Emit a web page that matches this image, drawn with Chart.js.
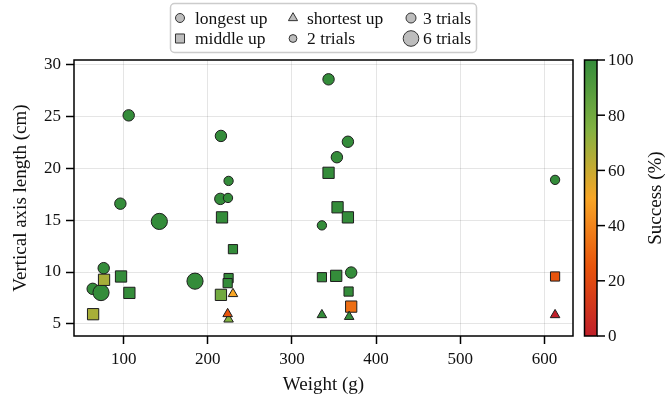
<!DOCTYPE html>
<html>
<head>
<meta charset="utf-8">
<script src="https://cdn.jsdelivr.net/npm/chart.js@4.4.0/dist/chart.umd.min.js"></script>
<style>
  html, body { margin: 0; padding: 0; background: #fff; }
</style>
</head>
<body>
<canvas id="chart" width="671" height="398"></canvas>
<script>
// longest up (circles)
const longestWeight  = [106, 215.6, 224.7, 343.5, 366.5, 353.4, 612.7, 214.9, 224, 96.1, 142.4, 335.6, 76.3, 63.2, 73.1, 184.8, 370.4];
const longestLength  = [25.08, 23.1, 18.77, 28.55, 22.54, 21.05, 18.87, 17.04, 17.13, 16.58, 14.87, 14.49, 10.37, 8.38, 8.02, 9.12, 9.95];
const longestSuccess = [100, 100, 100, 100, 100, 100, 100, 100, 100, 100, 100, 100, 100, 100, 100, 100, 100];
const longestTrials  = [3, 3, 2, 3, 3, 3, 2, 3, 2, 3, 6, 2, 3, 3, 6, 6, 3];

// middle up (squares)
const middleWeight  = [343.5, 354.2, 366.5, 216.9, 229.9, 224.7, 223.6, 215.6, 76.7, 96.9, 106.8, 63.7, 335.6, 352.6, 367.3, 370.4, 612.7];
const middleLength  = [19.55, 16.23, 15.26, 15.26, 12.2, 9.41, 8.93, 7.8, 9.25, 9.57, 7.99, 5.94, 9.5, 9.63, 8.12, 6.67, 9.57];
const middleSuccess = [100, 100, 100, 100, 100, 100, 100, 80, 67, 100, 100, 67, 100, 100, 100, 33, 25];
const middleTrials  = [3, 3, 3, 3, 2, 2, 2, 3, 3, 3, 3, 3, 2, 3, 2, 3, 2];

// shortest up (triangles)
const shortestWeight  = [229.9, 224.7, 223.6, 368, 335.6, 612.7];
const shortestLength  = [7.9, 5.45, 5.97, 5.7, 5.87, 5.87];
const shortestSuccess = [50, 75, 25, 100, 100, 0];
const shortestTrials  = [2, 2, 2, 2, 2, 2];

const xTicks = [100, 200, 300, 400, 500, 600];
const yTicks = [5, 10, 15, 20, 25, 30];
const cbTicks = [0, 20, 40, 60, 80, 100];

const shapeLabels = ['longest up', 'middle up', 'shortest up'];
const trialLabels = ['2 trials', '3 trials', '6 trials'];

const serif = '"Liberation Serif", "Times New Roman", serif';

// red -> orange -> green colour map
const stops = [
  [0, [192, 32, 42]],
  [0.25, [232, 84, 12]],
  [0.5, [248, 166, 38]],
  [0.75, [130, 178, 66]],
  [1, [52, 140, 58]]
];
function cmap(pct) {
  const t = Math.max(0, Math.min(1, pct / 100));
  for (let i = 1; i < stops.length; i++) {
    if (t <= stops[i][0]) {
      const [t0, c0] = stops[i - 1];
      const [t1, c1] = stops[i];
      const f = (t - t0) / (t1 - t0);
      const c = c0.map((v, k) => Math.round(v + (c1[k] - v) * f));
      return `rgb(${c[0]},${c[1]},${c[2]})`;
    }
  }
  return 'rgb(52,140,58)';
}

const toPoints = (xs, ys) => xs.map((x, i) => ({ x: x, y: ys[i] }));

const boxPlugin = {
  id: 'box',
  afterDraw(chart) {
    const { ctx, chartArea: a } = chart;
    ctx.save();
    ctx.strokeStyle = '#000';
    ctx.lineWidth = 1.5;
    ctx.strokeRect(a.left, a.top, a.right - a.left, a.bottom - a.top);
    ctx.restore();
  }
};

const colorbarPlugin = {
  id: 'colorbar',
  afterDraw(chart) {
    const { ctx, chartArea: a } = chart;
    const x0 = 584.5, w = 12.5;
    const top = a.top, bottom = a.bottom;
    ctx.save();
    const g = ctx.createLinearGradient(0, bottom, 0, top);
    for (let p = 0; p <= 100; p += 5) g.addColorStop(p / 100, cmap(p));
    ctx.fillStyle = g;
    ctx.fillRect(x0, top, w, bottom - top);
    ctx.strokeStyle = '#000';
    ctx.lineWidth = 1.5;
    ctx.strokeRect(x0, top, w, bottom - top);
    ctx.fillStyle = '#111';
    ctx.font = '17px ' + serif;
    ctx.textAlign = 'left';
    ctx.textBaseline = 'middle';
    cbTicks.forEach(v => {
      const y = bottom - (bottom - top) * v / 100;
      ctx.beginPath();
      ctx.moveTo(x0 + w, y);
      ctx.lineTo(x0 + w + 8, y);
      ctx.stroke();
      ctx.fillText(String(v), x0 + w + 11, y + 1);
    });
    ctx.translate(656, (top + bottom) / 2);
    ctx.rotate(-Math.PI / 2);
    ctx.textAlign = 'center';
    ctx.font = '19px ' + serif;
    ctx.fillText('Success (%)', 0, 0);
    ctx.restore();
  }
};

const legendPlugin = {
  id: 'customLegend',
  afterDraw(chart) {
    const ctx = chart.ctx;
    const draw = Chart.helpers.drawPoint;
    ctx.save();
    ctx.beginPath();
    ctx.roundRect(170.5, 3.5, 306, 49, 4);
    ctx.fillStyle = 'rgba(255,255,255,0.85)';
    ctx.fill();
    ctx.strokeStyle = '#cccccc';
    ctx.lineWidth = 1.5;
    ctx.stroke();

    const rows = [18, 38.5];
    const items = [
      { mx: 180, tx: 195, y: rows[0], style: 'circle', r: 4.5, label: shapeLabels[0] },
      { mx: 180, tx: 195, y: rows[1], style: 'rect', r: 6.4, label: shapeLabels[1] },
      { mx: 293, tx: 307, y: rows[0], style: 'triangle', r: 5.3, label: shapeLabels[2] },
      { mx: 293, tx: 307, y: rows[1], style: 'circle', r: 3.9, label: trialLabels[0] },
      { mx: 411, tx: 423, y: rows[0], style: 'circle', r: 5, label: trialLabels[1] },
      { mx: 411, tx: 423, y: rows[1], style: 'circle', r: 7.8, label: trialLabels[2] }
    ];
    ctx.font = '17.5px ' + serif;
    ctx.textAlign = 'left';
    ctx.textBaseline = 'middle';
    items.forEach(it => {
      ctx.fillStyle = '#bdbdbd';
      ctx.strokeStyle = '#333';
      ctx.lineWidth = 1;
      draw(ctx, { pointStyle: it.style, radius: it.r, rotation: 0, borderWidth: 1 }, it.mx, it.y);
      ctx.fillStyle = '#111';
      ctx.fillText(it.label, it.tx, it.y + 1);
    });
    ctx.restore();
  }
};

const edge = '#1e1e1e';

new Chart(document.getElementById('chart'), {
  type: 'scatter',
  data: {
    datasets: [
      {
        label: shapeLabels[0],
        data: toPoints(longestWeight, longestLength),
        pointStyle: 'circle',
        pointRadius: longestTrials.map(t => 3.3 * Math.sqrt(t)),
        backgroundColor: longestSuccess.map(cmap),
        borderColor: edge,
        borderWidth: 1,
        order: 2
      },
      {
        label: shapeLabels[1],
        data: toPoints(middleWeight, middleLength),
        pointStyle: 'rect',
        pointRadius: middleTrials.map(t => 4.6 * Math.sqrt(t)),
        backgroundColor: middleSuccess.map(cmap),
        borderColor: edge,
        borderWidth: 1,
        order: 1
      },
      {
        label: shapeLabels[2],
        data: toPoints(shortestWeight, shortestLength),
        pointStyle: 'triangle',
        pointRadius: shortestTrials.map(t => 3.9 * Math.sqrt(t)),
        backgroundColor: shortestSuccess.map(cmap),
        borderColor: edge,
        borderWidth: 1,
        order: 0
      }
    ]
  },
  options: {
    responsive: false,
    animation: false,
    events: [],
    layout: { padding: { top: 60, right: 98, left: 0, bottom: 0 } },
    plugins: {
      legend: { display: false },
      tooltip: { enabled: false }
    },
    scales: {
      x: {
        type: 'linear',
        min: 41,
        max: 634,
        afterBuildTicks: scale => { scale.ticks = xTicks.map(v => ({ value: v })); },
        afterFit: scale => { scale.height = 62; },
        grid: { color: 'rgba(0,0,0,0.1)', tickColor: '#000', tickLength: 8, tickWidth: 1.5 },
        border: { display: false },
        ticks: { color: '#111', font: { family: serif, size: 17 }, padding: 5, maxRotation: 0 },
        title: { display: true, text: 'Weight (g)', color: '#111', font: { family: serif, size: 19 }, padding: { top: 0, bottom: 2 } }
      },
      y: {
        type: 'linear',
        min: 3.84,
        max: 30.41,
        afterBuildTicks: scale => { scale.ticks = yTicks.map(v => ({ value: v })); },
        afterFit: scale => { scale.width = 74; },
        grid: { color: 'rgba(0,0,0,0.1)', tickColor: '#000', tickLength: 8, tickWidth: 1.5 },
        border: { display: false },
        ticks: { color: '#111', font: { family: serif, size: 17 }, padding: 5 },
        title: { display: true, text: 'Vertical axis length (cm)', color: '#111', font: { family: serif, size: 19 }, padding: { top: 10, bottom: 0 } }
      }
    }
  },
  plugins: [boxPlugin, colorbarPlugin, legendPlugin]
});
</script>
</body>
</html>
